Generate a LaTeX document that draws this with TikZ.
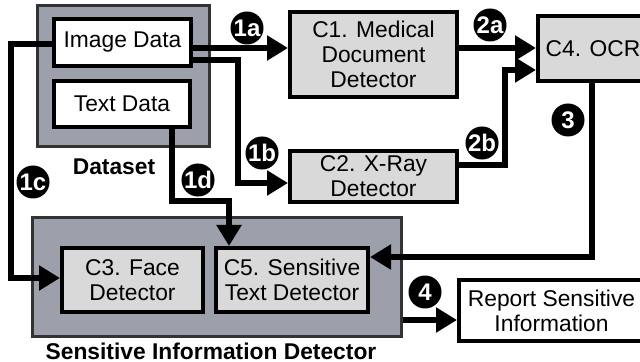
\documentclass[tikz,border=0pt]{standalone}
\usepackage{fontspec}
\setmainfont{Liberation Sans}
\usetikzlibrary{arrows.meta}

\definecolor{groupgray}{HTML}{9BA0AA}

\begin{document}
\begin{tikzpicture}[x=0.5pt, y=-0.5pt,
    txt/.style={font=\fontsize{11.4}{12.6}\selectfont},
    group/.style={draw=black!80, line width=1.5pt, fill=groupgray, inner sep=0pt},
    comp/.style={txt, draw, line width=2pt, fill=black!15, align=center, inner sep=0pt},
    data/.style={comp, fill=white},
    flow/.style={line width=3pt, -{Triangle[length=10.5pt, width=12pt]}},
    badge/.style={circle, fill=black, text=white, inner sep=0pt, minimum size=16.5pt,
        font=\fontsize{12}{12}\bfseries},
    caption/.style={font=\fontsize{11.4}{12.6}\bfseries}]
        \clip (0,0) rectangle (640,362);

        % containers
        \node (dataset) [group, minimum width=86pt, minimum height=70.5pt] at (123,76.5) {};
        \node (sid) [group, minimum width=184.5pt, minimum height=59pt] at (216.5,277) {};
        \node (datalbl) [caption] at (114,167) {Dataset};
        \node (sidlbl) [caption] at (211,351) {Sensitive Information Detector};

        % boxes
        \node (img) [data, minimum width=68.5pt, minimum height=23.5pt] at (122.5,42.5) {Image Data};
        \node (text) [data, minimum width=68pt, minimum height=23pt] at (122,104) {Text Data};
        \node (c1) [comp, minimum width=83.5pt, minimum height=42.5pt] at (373.5,54.5) {C1. Medical\\Document\\Detector};
        \node (c2) [comp, minimum width=83.5pt, minimum height=25.5pt] at (373.5,176.5) {C2. X-Ray\\Detector};
        \node (c4) [comp, minimum width=55pt, minimum height=32.5pt] at (593,48.5) {C4. OCR};
        \node (c3) [comp, minimum width=70.5pt, minimum height=32pt] at (132.5,280) {C3. Face\\Detector};
        \node (c5) [comp, minimum width=76pt, minimum height=32pt] at (292,280) {C5. Sensitive\\Text Detector};
        \node (report) [data, minimum width=92.5pt, minimum height=30.5pt] at (551.5,310.5) {Report Sensitive\\Information};

        % connectors
        \draw [flow] (img.east |- 0,48) -- (c1.west |- 0,48);
        \draw [flow] (img.east |- 0,60) -| (238,183) -- (c2.west |- 0,183);
        \draw [flow] (img.west |- 0,44) -| (11,278) -- (c3.west |- 0,278);
        \draw [flow] (text.south -| 172,0) |- (229,201) -- (c5.north -| 229,0);
        \draw [flow] (c1.east |- 0,48) -- (c4.west |- 0,48);
        \draw [flow] (c2.east |- 0,165) -| (505,70) -- (c4.west |- 0,70);
        \draw [flow] (c4.south -| 592,0) |- (c5.east |- 0,257);
        \draw [flow] (sid.east |- 0,320) -- (report.west |- 0,320);

        % step numbers
        \node (s1a) [badge] at (247,28) {1a};
        \node (s1b) [badge] at (262,153) {1b};
        \node (s1c) [badge] at (33,182) {1c};
        \node (s1d) [badge] at (198,180) {1d};
        \node (s2a) [badge] at (490,25) {2a};
        \node (s2b) [badge] at (482,143) {2b};
        \node (s3) [badge] at (568,120) {3};
        \node (s4) [badge] at (425,292) {4};
\end{tikzpicture}
\end{document}
